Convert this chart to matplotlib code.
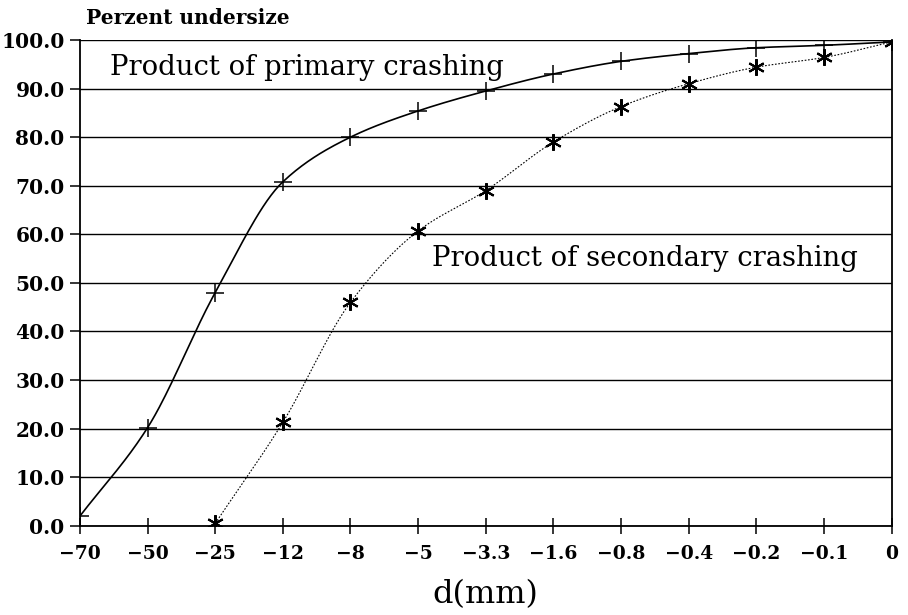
import matplotlib
matplotlib.use('Agg')

import numpy as np
import matplotlib.pyplot as plt

sizes = ['-70', '-50', '-25', '-12', '-8', '-5', '-3.3', '-1.6', '-0.8', '-0.4', '-0.2', '-0.1', '0']
primary = [2.0, 20.2, 48.0, 70.8, 80.0, 85.4, 89.5, 93.0, 95.6, 97.2, 98.4, 98.9, 99.6]
secondary_sizes = sizes[2:]
secondary = [0.5, 21.3, 46.0, 60.7, 69.0, 79.0, 86.3, 91.0, 94.4, 96.4, 99.6]
yticks = [0, 10, 20, 30, 40, 50, 60, 70, 80, 90, 100]

SERIF = 'DejaVu Serif'


def pchip(x, y, xn):
    # smooth monotone curve through the points (numpy only)
    x = np.asarray(x, float)
    y = np.asarray(y, float)
    h = np.diff(x)
    delta = np.diff(y) / h
    d = np.zeros_like(y)
    for k in range(1, len(y) - 1):
        if delta[k - 1] * delta[k] > 0:
            w1 = 2 * h[k] + h[k - 1]
            w2 = h[k] + 2 * h[k - 1]
            d[k] = (w1 + w2) / (w1 / delta[k - 1] + w2 / delta[k])
    d[0] = delta[0]
    d[-1] = delta[-1]
    idx = np.clip(np.searchsorted(x, xn) - 1, 0, len(x) - 2)
    t = (xn - x[idx]) / h[idx]
    h00 = 2 * t**3 - 3 * t**2 + 1
    h10 = t**3 - 2 * t**2 + t
    h01 = -2 * t**3 + 3 * t**2
    h11 = t**3 - t**2
    return h00 * y[idx] + h10 * h[idx] * d[idx] + h01 * y[idx + 1] + h11 * h[idx] * d[idx + 1]


xp = np.arange(len(sizes))
xs = np.array([sizes.index(s) for s in secondary_sizes])

fig = plt.figure(figsize=(9.08, 6.15), dpi=100)
ax = fig.add_axes([0.088, 0.145, 0.894, 0.79])

for v in yticks:
    ax.axhline(v, color='black', lw=1.0, zorder=1)

xx = np.linspace(xp[0], xp[-1], 400)
ax.plot(xx, pchip(xp, primary, xx), color='black', lw=1.2, zorder=2)
ax.plot(xp, primary, ls='none', marker='+', ms=13, mew=1.1, color='black', zorder=3)

xx2 = np.linspace(xs[0], xs[-1], 400)
ax.plot(xx2, pchip(xs, secondary, xx2), color='black', lw=0.8, ls=(0, (1.5, 1.5)), zorder=2)
ax.plot(xs, secondary, ls='none', marker=(6, 2, 0), ms=12, mew=1.5, color='black', zorder=3)

ax.set_xlim(0, len(sizes) - 1)
ax.set_ylim(0, 100)
ax.set_xticks(xp)
ax.set_xticklabels([s.replace('-', '\u2212') for s in sizes], family=SERIF,
                   fontweight='bold', fontsize=13.5)
ax.set_yticks(yticks)
ax.set_yticklabels(['%.1f' % v for v in yticks], family=SERIF,
                   fontweight='bold', fontsize=14.5)
ax.tick_params(axis='x', direction='inout', length=11, width=1.1, pad=8)
ax.tick_params(axis='y', direction='out', length=7, width=1.1, pad=4)
for sp in ['left', 'bottom', 'right']:
    ax.spines[sp].set_linewidth(1.3)
ax.spines['top'].set_visible(False)

ax.text(0.44, 94.4, 'Product of primary crashing', family=SERIF,
        fontsize=19.8, va='center', ha='left', zorder=4)
ax.text(5.2, 55.1, 'Product of secondary crashing', family=SERIF,
        fontsize=19.8, va='center', ha='left', zorder=4)

fig.text(0.095, 0.97, 'Perzent undersize', family=SERIF, fontweight='bold',
         fontsize=14.5, va='center', ha='left')
ax.set_xlabel('d(mm)', family=SERIF, fontsize=23, labelpad=12)

fig.savefig('out.png', dpi=100)
